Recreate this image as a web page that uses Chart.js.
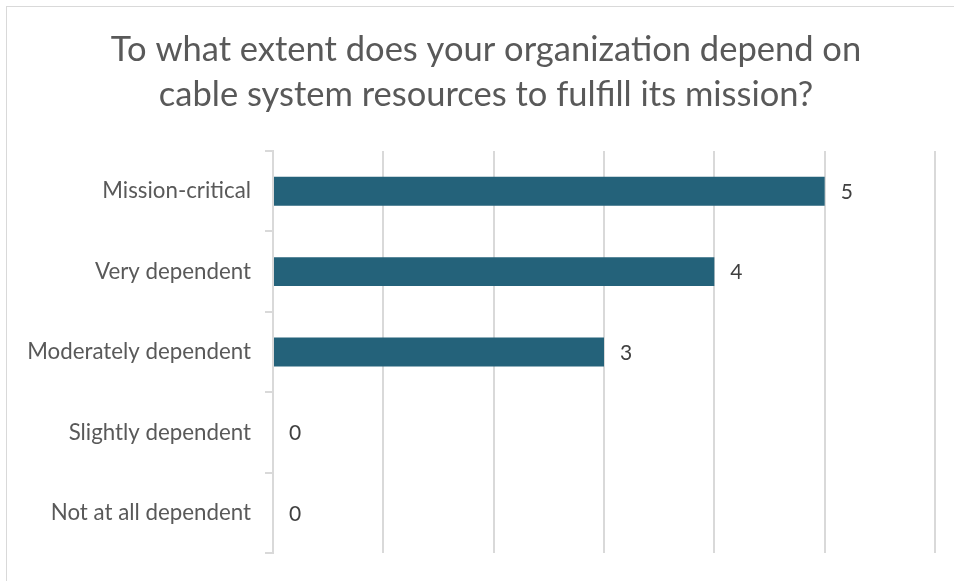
<!DOCTYPE html>
<html>
<head>
<meta charset="utf-8">
<script src="https://cdn.jsdelivr.net/npm/chart.js@4/dist/chart.umd.min.js"></script>
<style>
  html, body { margin: 0; padding: 0; background: #fff; overflow: hidden; }
  #wrap { position: relative; width: 954px; height: 581px; }
  #frame {
    position: absolute; left: 6px; top: 6px; width: 980px; height: 600px;
    border: 1.5px solid #d9d9d9; box-sizing: border-box;
  }
  canvas { position: absolute; left: 0; top: 0; }
</style>
</head>
<body>
<div id="wrap">
  <div id="frame"></div>
  <canvas id="chart" width="954" height="581"></canvas>
</div>
<script>
// ── DATA ──────────────────────────────────────────────
const titleLines = [
  "To what extent does your organization depend on",
  "cable system resources to fulfill its mission?",
];
const categories = [
  "Mission-critical",
  "Very dependent",
  "Moderately dependent",
  "Slightly dependent",
  "Not at all dependent",
];
const responses = [5, 4, 3, 0, 0];
const axisMax = 6;

// ── STYLE ─────────────────────────────────────────────
const FONT = "Lato, 'Open Sans', sans-serif";
const gridGrey = "#d9d9d9";
const barColor = "#24627a";

// value text to the right of each bar
const valueLabels = {
  id: "valueLabels",
  afterDatasetsDraw(chart) {
    const ctx = chart.ctx;
    const meta = chart.getDatasetMeta(0);
    ctx.save();
    ctx.font = "21px " + FONT;
    ctx.fillStyle = "#404040";
    ctx.textAlign = "left";
    ctx.textBaseline = "middle";
    meta.data.forEach((bar, i) => {
      ctx.fillText(String(responses[i]), bar.x + 16, bar.y + 1);
    });
    ctx.restore();
  },
};

// nudge the title a little right of the layout centre
const titleShift = {
  id: "titleShift",
  afterLayout(chart) {
    const t = chart.titleBlock;
    if (t) { t.left += 10.5; t.right += 10.5; }
  },
};

// ── CHART ─────────────────────────────────────────────
new Chart(document.getElementById("chart").getContext("2d"), {
  type: "bar",
  data: {
    labels: categories,
    datasets: [{
      data: responses,
      backgroundColor: barColor,
      borderWidth: 0,
      categoryPercentage: 1,
      barPercentage: 0.36,
    }],
  },
  options: {
    indexAxis: "y",
    responsive: false,
    animation: false,
    layout: { padding: { left: 16, right: 19, top: 0, bottom: 28 } },
    plugins: {
      legend: { display: false },
      tooltip: { enabled: false },
      title: {
        display: true,
        text: titleLines,
        color: "#595959",
        font: { family: FONT, size: 34.5, weight: "normal", lineHeight: "45px" },
        padding: { top: 27, bottom: 34 },
      },
    },
    scales: {
      x: {
        min: 0,
        max: axisMax,
        ticks: { display: false, stepSize: 1 },
        grid: { color: gridGrey, lineWidth: 2, drawTicks: false },
        border: { display: false },
      },
      y: {
        afterFit: s => { s.width = 257; },
        ticks: { color: "#595959", font: { family: FONT, size: 22.3 }, padding: 14 },
        grid: { drawOnChartArea: false, color: gridGrey, lineWidth: 2, tickLength: 8 },
        border: { color: gridGrey, width: 2 },
      },
    },
  },
  plugins: [valueLabels, titleShift],
});
</script>
</body>
</html>
